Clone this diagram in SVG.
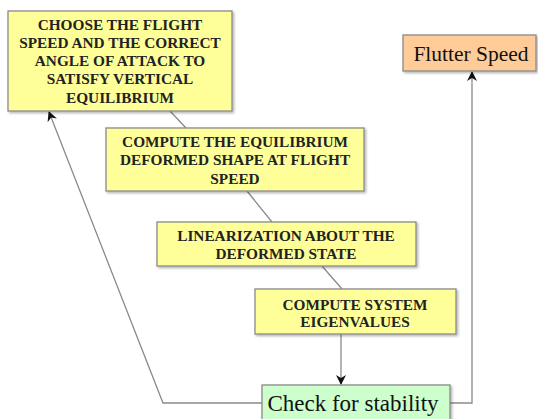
<svg xmlns="http://www.w3.org/2000/svg" width="538" height="419" viewBox="0 0 538 419">
<defs>
<marker id="ah" viewBox="0 0 10 10" refX="9" refY="5" markerWidth="10" markerHeight="10" markerUnits="userSpaceOnUse" orient="auto">
<path d="M0,0 L10,5 L0,10 L3,5 Z" fill="#111"/>
</marker>
<filter id="sh" x="-5%" y="-5%" width="115%" height="120%">
<feDropShadow dx="1.5" dy="1.5" stdDeviation="0.8" flood-color="#000" flood-opacity="0.3"/>
</filter>
</defs>
<style>
.box{stroke:#8a8a8a;stroke-width:1.3;filter:url(#sh)}
.y{fill:#FFFF99}
.o{fill:#FFCC99}
.g{fill:#CCFFCC}
.t{font-family:"Liberation Serif",serif;font-weight:bold;font-size:15.3px;fill:#222;text-anchor:middle}
.big{font-family:"Liberation Serif",serif;fill:#111;text-anchor:middle}
.c{fill:none;stroke:#8a8a8a;stroke-width:1.3}
</style>
<g id="connectors">
<line class="c" x1="170" y1="111" x2="186" y2="128"/>
<line class="c" x1="247" y1="191" x2="272" y2="222"/>
<line class="c" x1="322" y1="266" x2="342" y2="289"/>
<line class="c" x1="341" y1="334" x2="341" y2="384" marker-end="url(#ah)"/>
<polyline class="c" points="262,403 163,403 49,112" marker-end="url(#ah)"/>
<polyline class="c" points="450,403 472,403 472,72" marker-end="url(#ah)"/>
</g>
<g id="choose">
<rect class="box y" x="8" y="11" width="224" height="100"/>
<text class="t" x="120" y="30">CHOOSE THE FLIGHT</text>
<text class="t" x="120" y="48">SPEED AND THE CORRECT</text>
<text class="t" x="120" y="66">ANGLE OF ATTACK TO</text>
<text class="t" x="120" y="84">SATISFY VERTICAL</text>
<text class="t" x="120" y="103">EQUILIBRIUM</text>
</g>
<g id="equilibrium">
<rect class="box y" x="106" y="128" width="258" height="63"/>
<text class="t" x="235" y="147">COMPUTE THE EQUILIBRIUM</text>
<text class="t" x="235" y="165">DEFORMED SHAPE AT FLIGHT</text>
<text class="t" x="235" y="184">SPEED</text>
</g>
<g id="linearization">
<rect class="box y" x="157" y="222" width="259" height="44"/>
<text class="t" x="286" y="241">LINEARIZATION ABOUT THE</text>
<text class="t" x="286" y="259">DEFORMED STATE</text>
</g>
<g id="eigen">
<rect class="box y" x="255" y="289" width="201" height="45"/>
<text class="t" x="355" y="310">COMPUTE SYSTEM</text>
<text class="t" x="355" y="327">EIGENVALUES</text>
</g>
<g id="check">
<rect class="box g" x="262" y="385" width="188" height="40"/>
<text class="big" x="353" y="411" font-size="23">Check for stability</text>
</g>
<g id="flutter">
<rect class="box o" x="403" y="35" width="133" height="36"/>
<text class="big" x="471" y="61" font-size="21.5">Flutter Speed</text>
</g>
</svg>
